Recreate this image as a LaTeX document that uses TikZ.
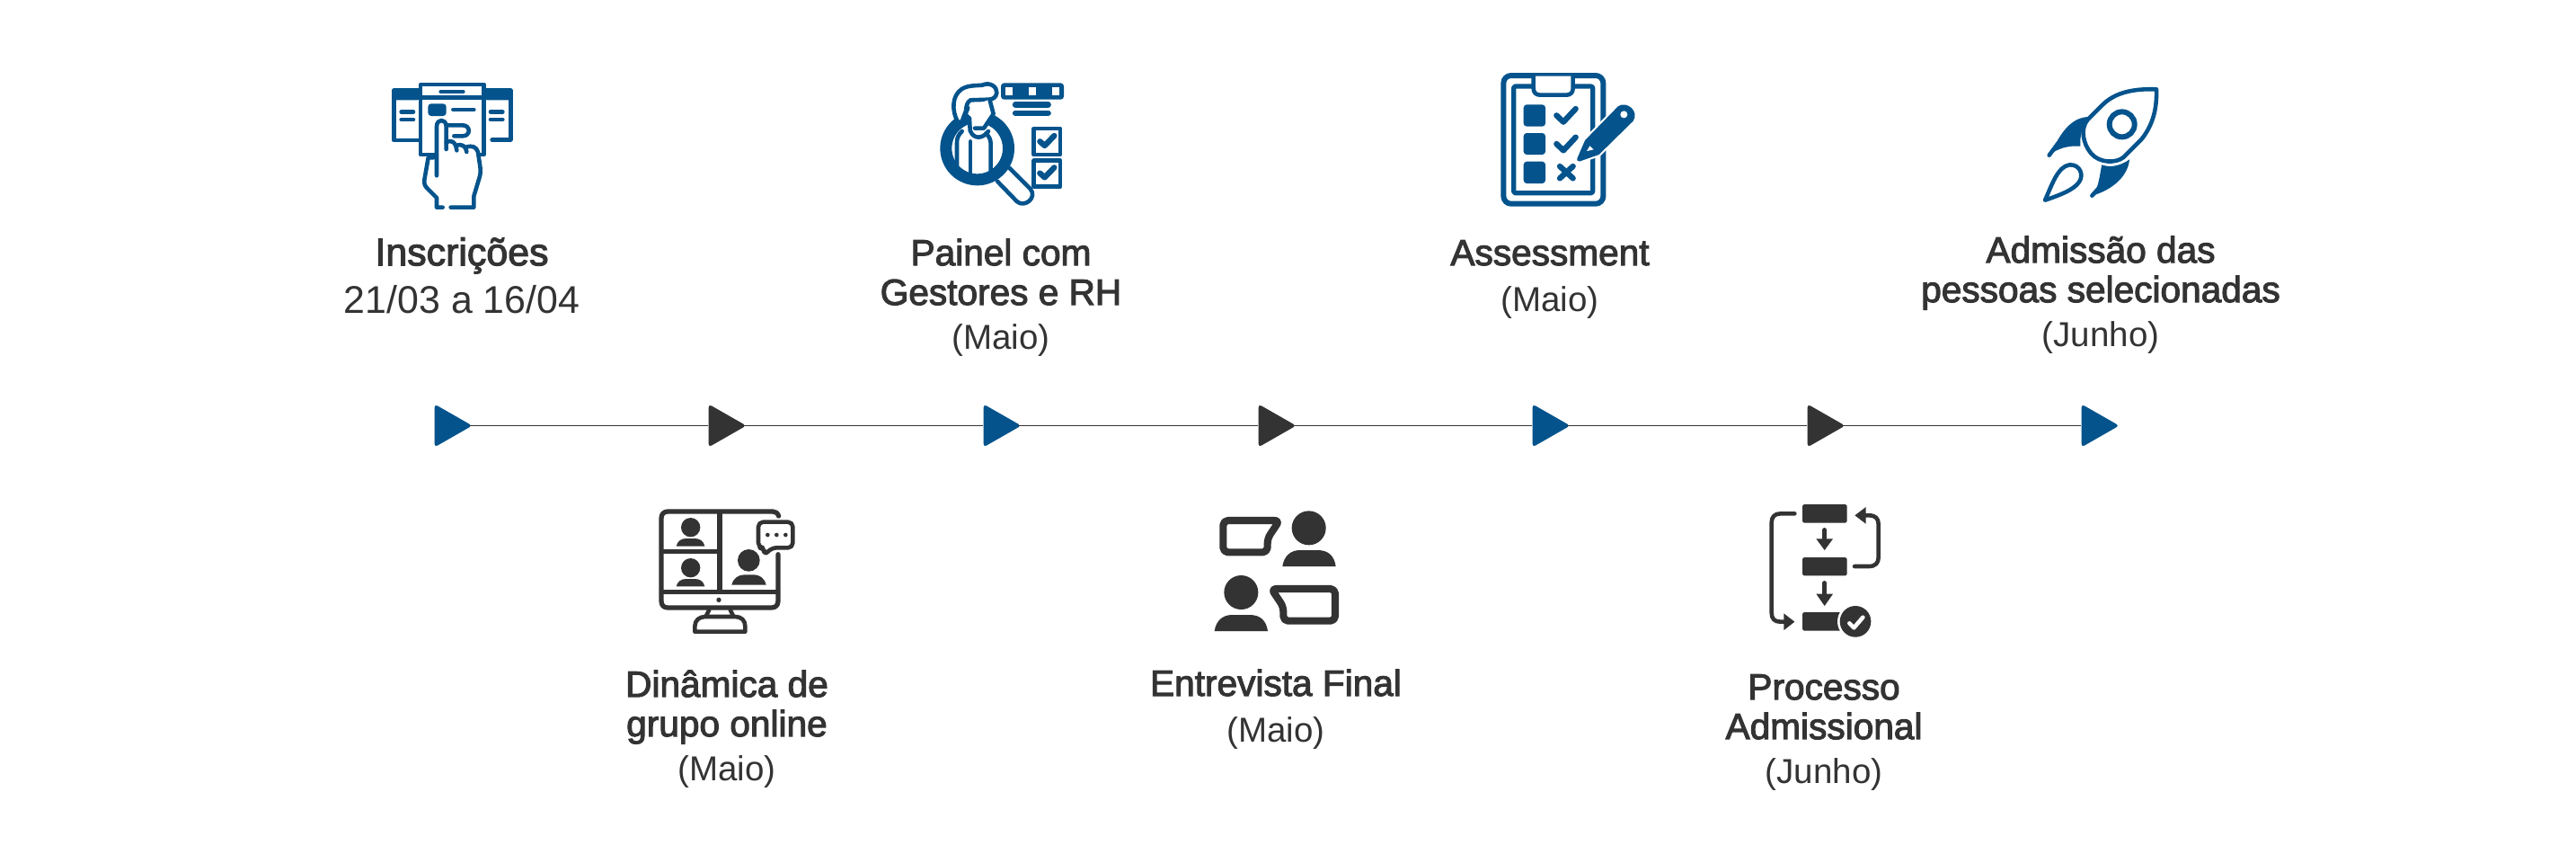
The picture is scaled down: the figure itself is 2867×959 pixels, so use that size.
\documentclass[tikz,border=0pt]{standalone}
\usepackage{fontspec}
\usetikzlibrary{shapes.geometric}
\setmainfont{Liberation Sans}
\newfontfamily\headfont[FakeBold=2.6]{Liberation Sans}
\newfontfamily\subfont{Liberation Sans}
\definecolor{azul}{RGB}{4,83,140}
\definecolor{grafite}{RGB}{51,51,51}
\newcommand{\sublabel}[1]{{\subfont\fontsize{10.95pt}{12.5pt}\selectfont #1}}
\tikzset{
	marker/.style={isosceles triangle, isosceles triangle apex angle=60, isosceles triangle stretches, minimum width=13.6pt, minimum height=11.9pt, inner sep=0pt, rounded corners=1pt, anchor=lower side},
	axisline/.style={line width=0.55pt, color=grafite, shorten <=-1.5pt},
	etapa/.style={align=center, inner sep=0pt, anchor=base, text=grafite, font=\headfont\fontsize{11.55pt}{12.5pt}\selectfont},
	traco/.style={line width=1.3pt, line cap=round, line join=round},
	grosso/.style={line width=1.8pt, line cap=round, line join=round}
}
\begin{document}
\begin{tikzpicture}[x=0.01cm, y=-0.01cm]
			\useasboundingbox (0, 0) rectangle (2867, 959);
			
			%%%%% TIMELINE %%%%%
			\node[marker, fill=azul] (m1) at (483, 473.5) {};
			\node[marker, fill=grafite] (m2) at (788, 473.5) {};
			\node[marker, fill=azul] (m3) at (1094, 473.5) {};
			\node[marker, fill=grafite] (m4) at (1400, 473.5) {};
			\node[marker, fill=azul] (m5) at (1705, 473.5) {};
			\node[marker, fill=grafite] (m6) at (2011, 473.5) {};
			\node[marker, fill=azul] (m7) at (2316, 473.5) {};
			\draw[axisline] (m1.apex) -- (m2.lower side);
			\draw[axisline] (m2.apex) -- (m3.lower side);
			\draw[axisline] (m3.apex) -- (m4.lower side);
			\draw[axisline] (m4.apex) -- (m5.lower side);
			\draw[axisline] (m5.apex) -- (m6.lower side);
			\draw[axisline] (m6.apex) -- (m7.lower side);
			
			%%%%% LABELS %%%%%
			\node[etapa, font=\headfont\fontsize{12.2pt}{15pt}\selectfont] (inscricoes) at (514, 348) {Inscrições\\{\subfont 21/03 a 16/04}};
			\node[etapa] (painel) at (1114, 388) {Painel com\\Gestores e RH\\[1.4pt]\sublabel{(Maio)}};
			\node[etapa] (assessment) at (1725, 346) {Assessment\\[2pt]\sublabel{(Maio)}};
			\node[etapa] (admissao) at (2338, 385) {Admissão das\\pessoas selecionadas\\[1.4pt]\sublabel{(Junho)}};
			\node[etapa] (dinamica) at (809, 868) {Dinâmica de\\grupo online\\[1.4pt]\sublabel{(Maio)}};
			\node[etapa] (entrevista) at (1420, 825) {Entrevista Final\\[2pt]\sublabel{(Maio)}};
			\node[etapa] (processo) at (2030, 871) {Processo\\Admissional\\[1.4pt]\sublabel{(Junho)}};
			
			%%%%% INSCRICOES ICON %%%%%
			\begin{scope}[shift={(400, 70)}, scale=1/3, color=azul]
				\draw[traco] (204, 92) -- (115, 92) -- (115, 258) -- (204, 258);
				\draw[traco] (416, 92) -- (505, 92) -- (505, 256) -- (443, 256);
				\fill[rounded corners=1pt] (110, 87) rectangle (204, 124);
				\fill[rounded corners=1pt] (416, 87) rectangle (511, 124);
				\draw[traco, fill=white] (204, 72) rectangle (416, 306);
				\draw[traco] (204, 115) -- (416, 115);
				\draw[traco] (272, 96) -- (346, 96);
				\fill[rounded corners=1pt] (229, 136) rectangle (290, 177);
				\draw[traco] (313, 156) -- (382, 156);
				\draw[traco] (140, 163) -- (180, 163);
				\draw[traco] (140, 189) -- (180, 189);
				\draw[traco] (438, 163) -- (478, 163);
				\draw[traco] (438, 189) -- (478, 189);
				\fill[white] (228, 316) -- (258, 316) -- (258, 210) -- (290, 210) -- (290, 265) -- (396, 298) -- (405, 370) -- (382, 445) -- (382, 482) -- (258, 482) -- (258, 450) -- (225, 415) -- (216, 390) -- cycle;
				\draw[traco] (258, 376) -- (258, 212) .. controls (258, 185) and (290, 185) .. (290, 212) -- (290, 288);
				\draw[traco] (290, 208) -- (345, 208) .. controls (372, 208) and (372, 244) .. (345, 244) -- (316, 244);
				\draw[traco] (290, 265) .. controls (305, 255) and (322, 262) .. (325, 292);
				\draw[traco] (325, 275) .. controls (340, 270) and (355, 275) .. (358, 297);
				\draw[traco] (358, 280) .. controls (375, 275) and (392, 280) .. (396, 298) -- (403, 345) .. controls (405, 360) and (405, 370) .. (400, 385) -- (382, 445) -- (382, 482) -- (305, 482);
				\draw[traco] (247, 316) -- (230, 316) -- (217, 390) .. controls (215, 405) and (220, 412) .. (228, 420) -- (258, 450) -- (258, 482) -- (278, 482);
			\end{scope}
			
			%%%%% PAINEL ICON %%%%%
			\begin{scope}[shift={(1020, 70)}, scale=1/3, color=azul]
				\draw[traco, fill=white] (270, 395) -- (335, 462) .. controls (360, 485) and (405, 450) .. (380, 420) -- (310, 350);
				\draw[line width=3.7pt] (203, 285) circle (104.5);
				\filldraw[traco, fill=white] (137, 195) .. controls (118, 160) and (118, 110) .. (150, 88) .. controls (170, 74) and (200, 76) .. (220, 74) .. controls (245, 62) and (270, 80) .. (268, 100) .. controls (266, 115) and (255, 122) .. (240, 122) -- (180, 124) .. controls (170, 130) and (165, 145) .. (165, 160) -- (150, 200) -- cycle;
				\fill[white] (165, 150) -- (245, 122) -- (257, 170) -- (225, 240) -- (180, 240) -- cycle;
				\draw[traco] (245, 125) -- (257, 170) -- (225, 218) -- (195, 218);
				\draw[traco] (172, 150) -- (163, 172) -- (177, 185) -- (179, 225) .. controls (190, 255) and (220, 255) .. (240, 228);
				\draw[traco] (152, 228) .. controls (140, 240) and (135, 250) .. (135, 265) -- (135, 365);
				\draw[traco] (180, 262) -- (180, 370);
				\draw[traco] (232, 235) .. controls (242, 245) and (248, 255) .. (248, 270) -- (248, 365);
				\fill[rounded corners=1pt] (282, 67) rectangle (492, 122);
				\fill[white] (298, 82) rectangle (322, 108);
				\fill[white] (374, 82) rectangle (400, 108);
				\fill[white] (453, 82) rectangle (477, 108);
				\draw[grosso] (330, 139) -- (440, 139);
				\draw[grosso] (330, 167) -- (440, 167);
				\draw[traco] (392, 219) rectangle (480, 306);
				\draw[grosso] (412, 262) -- (428, 276) -- (460, 243);
				\draw[traco] (392, 326) rectangle (480, 413);
				\draw[grosso] (412, 368) -- (428, 382) -- (460, 349);
			\end{scope}
			
			%%%%% ASSESSMENT ICON %%%%%
			\begin{scope}[shift={(1640, 70)}, scale=1/3, color=azul]
				\draw[traco, line width=1.7pt, rounded corners=2.4pt] (100, 42) rectangle (433, 470);
				\draw[traco, line width=1.5pt, rounded corners=0.6pt] (134, 78) rectangle (398, 434);
				\filldraw[traco, fill=white] (200, 44) -- (200, 85) .. controls (200, 98) and (208, 107) .. (222, 107) -- (310, 107) .. controls (324, 107) and (332, 98) .. (332, 85) -- (332, 44);
				\fill[rounded corners=1pt] (167, 139) rectangle (240, 212);
				\fill[rounded corners=1pt] (167, 234) rectangle (240, 306);
				\fill[rounded corners=1pt] (167, 329) rectangle (240, 402);
				\draw[grosso] (277, 175) -- (300, 197) -- (341, 153);
				\draw[grosso] (277, 270) -- (300, 292) -- (341, 248);
				\draw[grosso] (288, 345) -- (332, 385);
				\draw[grosso] (332, 345) -- (288, 385);
				\draw[white, line width=2.5pt, line join=round] (352, 322) -- (378, 262) -- (487, 150) .. controls (510, 135) and (545, 165) .. (527, 190) -- (415, 300) -- cycle;
				\filldraw[traco] (352, 322) -- (378, 262) -- (487, 150) .. controls (510, 135) and (545, 165) .. (527, 190) -- (415, 300) -- cycle;
				\fill[white] (502, 172) circle (12);
				\fill[white] (378, 294) -- (388, 277) -- (401, 289) -- cycle;
			\end{scope}
			
			%%%%% ADMISSAO ICON %%%%%
			\begin{scope}[shift={(2240, 80)}, scale=1/3, color=azul]
				\draw[traco] (480, 58) .. controls (400, 55) and (340, 70) .. (300, 110) -- (250, 160) .. controls (225, 190) and (235, 240) .. (262, 272) .. controls (290, 305) and (345, 305) .. (370, 285) -- (430, 225) .. controls (470, 175) and (482, 120) .. (480, 58) -- cycle;
				\draw[line width=1.7pt] (365, 175) circle (42);
				\fill[line join=round] (122, 278) .. controls (150, 230) and (180, 155) .. (250, 150) .. controls (232, 180) and (224, 215) .. (226, 248) .. controls (185, 245) and (150, 255) .. (122, 278) -- cycle;
				\draw[traco] (122, 278) -- (150, 240);
				\fill[line join=round] (265, 413) .. controls (290, 385) and (290, 340) .. (298, 310) .. controls (330, 322) and (365, 310) .. (390, 292) .. controls (385, 350) and (330, 395) .. (265, 413) -- cycle;
				\draw[traco] (265, 413) -- (290, 385);
				\draw[traco] (108, 428) .. controls (130, 380) and (150, 315) .. (190, 310) .. controls (225, 308) and (240, 345) .. (220, 370) .. controls (200, 395) and (160, 410) .. (108, 428) -- cycle;
			\end{scope}
			
			%%%%% DINAMICA ICON %%%%%
			\begin{scope}[shift={(710, 550)}, scale=1/3, color=grafite]
				\draw[traco, line width=1.5pt] (470, 72) .. controls (466, 62) and (460, 57) .. (450, 57) -- (100, 57) .. controls (86, 57) and (78, 66) .. (78, 80) -- (78, 355) .. controls (78, 370) and (86, 378) .. (100, 378) -- (445, 378) .. controls (460, 378) and (468, 370) .. (468, 355) -- (468, 200);
				\draw[line width=1.5pt] (273, 57) -- (273, 325);
				\draw[line width=1.5pt] (78, 191) -- (273, 191);
				\draw[line width=1.5pt] (78, 325) -- (468, 325);
				\fill (270, 352) circle (8);
				\fill (176, 110) circle (32);
				\fill (128, 173) .. controls (132, 155) and (145, 147) .. (160, 147) -- (190, 147) .. controls (207, 147) and (219, 155) .. (223, 173) -- cycle;
				\fill (176, 245) circle (32);
				\fill (128, 307) .. controls (132, 290) and (145, 282) .. (160, 282) -- (190, 282) .. controls (207, 282) and (219, 290) .. (223, 307) -- cycle;
				\fill (370, 220) circle (37);
				\fill (313, 302) .. controls (318, 280) and (335, 268) .. (355, 268) -- (385, 268) .. controls (408, 268) and (423, 280) .. (428, 302) -- cycle;
				\filldraw[traco, fill=white, rounded corners=1.5pt] (402, 92) -- (517, 92) -- (517, 178) -- (447, 178) -- (422, 203) -- (422, 178) -- (402, 178) -- cycle;
				\fill (433, 135) circle (7);
				\fill (463, 135) circle (7);
				\fill (493, 135) circle (7);
				\draw[traco] (238, 385) -- (228, 405);
				\draw[traco] (308, 385) -- (318, 405);
				\draw[traco] (190, 458) -- (190, 440) .. controls (190, 420) and (205, 408) .. (225, 408) -- (325, 408) .. controls (345, 408) and (358, 420) .. (358, 440) -- (358, 458) -- cycle;
			\end{scope}
			
			%%%%% ENTREVISTA ICON %%%%%
			\begin{scope}[shift={(1330, 550)}, scale=1/3, color=grafite]
				\draw[line width=2.3pt, line join=round, rounded corners=1.5pt] (94, 87) -- (282, 87) -- (242, 147) -- (242, 193) -- (94, 193) -- cycle;
				\fill (380, 112) circle (57);
				\fill (292, 240) .. controls (297, 205) and (320, 186) .. (350, 186) -- (410, 186) .. controls (445, 186) and (465, 205) .. (470, 240) -- cycle;
				\fill (154, 327) circle (57);
				\fill (65, 456) .. controls (70, 421) and (93, 402) .. (123, 402) -- (183, 402) .. controls (218, 402) and (238, 421) .. (243, 456) -- cycle;
				\draw[line width=2.3pt, line join=round, rounded corners=1.5pt] (255, 315) -- (468, 315) -- (468, 422) -- (295, 422) -- (295, 375) -- cycle;
			\end{scope}
			
			%%%%% PROCESSO ICON %%%%%
			\begin{scope}[shift={(1940, 550)}, scale=1/3, color=grafite]
				\fill[rounded corners=0.5pt] (198, 33) rectangle (347, 95);
				\fill[rounded corners=0.5pt] (198, 210) rectangle (347, 271);
				\fill[rounded corners=0.5pt] (198, 393) rectangle (330, 455);
				\fill[white] (375, 424) circle (60);
				\fill (375, 424) circle (52);
				\draw[white, traco] (355, 430) -- (370, 445) -- (400, 410);
				\draw[traco] (272, 118) -- (272, 160);
				\fill (244, 148) -- (300, 148) -- (272, 186) -- cycle;
				\draw[traco] (272, 295) -- (272, 340);
				\fill (244, 332) -- (300, 332) -- (272, 372) -- cycle;
				\draw[traco] (172, 64) -- (125, 64) .. controls (105, 64) and (95, 75) .. (95, 94) -- (95, 395) .. controls (95, 415) and (105, 425) .. (125, 425) -- (145, 425);
				\fill (136, 397) -- (172, 425) -- (136, 453) -- cycle;
				\draw[traco] (372, 240) -- (420, 240) .. controls (442, 240) and (452, 228) .. (452, 210) -- (452, 100) .. controls (452, 80) and (442, 70) .. (420, 70) -- (400, 70);
				\fill (410, 42) -- (373, 70) -- (410, 98) -- cycle;
			\end{scope}
\end{tikzpicture}
\end{document}
